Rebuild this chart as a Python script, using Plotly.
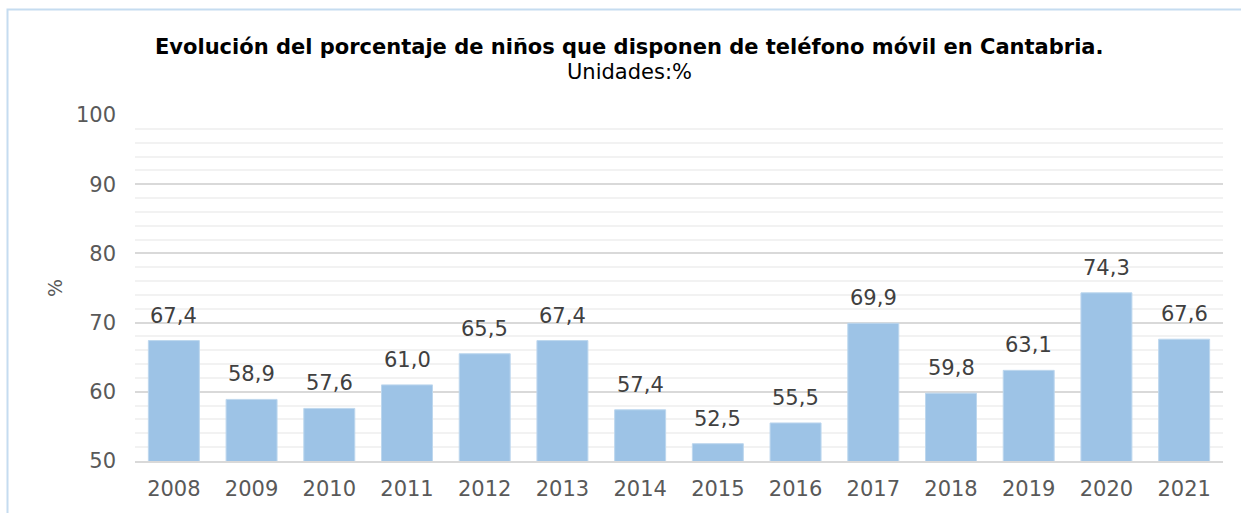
import plotly.graph_objects as go

years = ['2008', '2009', '2010', '2011', '2012', '2013', '2014',
         '2015', '2016', '2017', '2018', '2019', '2020', '2021']
pct = [67.4, 58.9, 57.6, 61.0, 65.5, 67.4, 57.4,
       52.5, 55.5, 69.9, 59.8, 63.1, 74.3, 67.6]
y_ticks = [50, 60, 70, 80, 90, 100]

W, H = 1241, 513
L, R, T, B = 135, 18, 115, 52
pw, ph = W - L - R, H - T - B

def px_x(p):
    return (p - L) / pw

def px_y(p):
    return (H - B - p) / ph

fig = go.Figure(go.Bar(
    x=years, y=pct,
    marker=dict(color='#9DC3E6', line=dict(color='#BDD7EE', width=1)),
))

# value labels, comma as decimal separator (x given as category index)
labels = [dict(x=i, y=v, text=f'{v:.1f}'.replace('.', ','), showarrow=False,
               xref='x', yref='y', yanchor='bottom', yshift=11,
               font=dict(size=21, color='#404040'))
          for i, v in enumerate(pct)]

fig.update_layout(
    width=W, height=H,
    margin=dict(l=L, r=R, t=T, b=B),
    paper_bgcolor='white', plot_bgcolor='white',
    bargap=0.344,
    showlegend=False,
    font=dict(family='DejaVu Sans', color='#595959'),
    annotations=labels + [
        dict(text='<b>Evolución del porcentaje de niños que disponen de teléfono móvil en Cantabria.</b>',
             x=px_x(629), y=px_y(47), xref='paper', yref='paper', showarrow=False,
             xanchor='center', yanchor='middle', font=dict(size=21, color='black')),
        dict(text='Unidades:%', x=px_x(629), y=px_y(72), xref='paper', yref='paper',
             showarrow=False, xanchor='center', yanchor='middle',
             font=dict(size=21, color='black')),
        dict(text='%', x=px_x(55), y=px_y(288), xref='paper', yref='paper',
             showarrow=False, textangle=-90, xanchor='center', yanchor='middle',
             font=dict(size=19, color='#595959')),
    ],
    shapes=[
        dict(type='rect', xref='paper', yref='paper',
             x0=px_x(7.5), x1=px_x(1260), y0=px_y(530), y1=px_y(9.5),
             line=dict(color='#C5DCF0', width=2), fillcolor='rgba(0,0,0,0)', layer='below'),
    ],
)

fig.update_yaxes(
    range=[50, 100], tickvals=y_ticks, ticktext=[str(v) for v in y_ticks],
    showgrid=True, gridcolor='#D9D9D9', gridwidth=2,
    minor=dict(dtick=2, showgrid=True, gridcolor='#F2F2F2', gridwidth=2),
    zeroline=False, showline=False,
    tickfont=dict(size=21, color='#595959'), ticks='', ticklabelstandoff=18,
)
fig.update_xaxes(
    type='category', range=[-0.5, len(years) - 0.5],
    showgrid=False, showline=True, linecolor='#D9D9D9', linewidth=2,
    tickfont=dict(size=21, color='#595959'), ticks='', ticklabelstandoff=8,
)

fig.write_html("out.html", config={'displayModeBar': False},
               post_script="document.body.style.margin='0';")
